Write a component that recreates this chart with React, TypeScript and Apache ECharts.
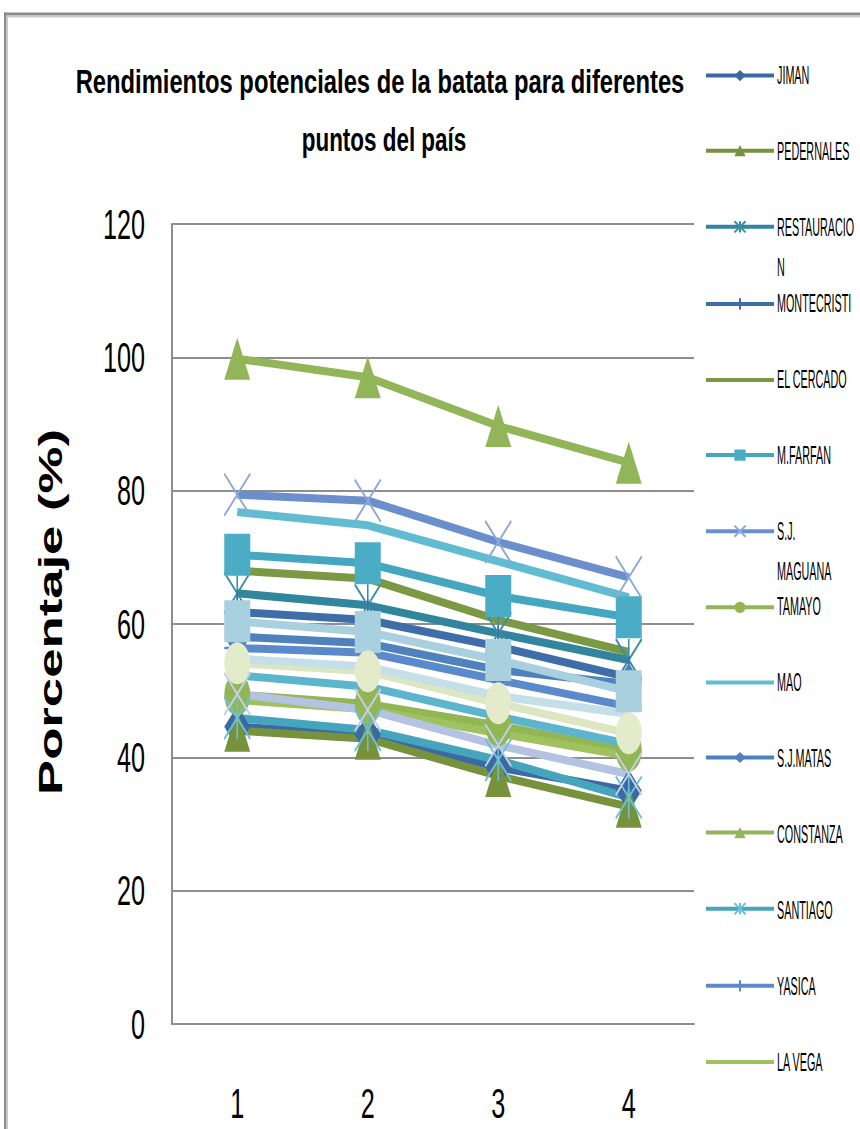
import React, { useEffect, useRef } from "react";
import * as echarts from "echarts";

// ---- data ----
const categories = ["1", "2", "3", "4"];
const yTicks = [0, 20, 40, 60, 80, 100, 120];

const seriesNames = [
  "JIMAN", "PEDERNALES", "RESTAURACION", "MONTECRISTI", "EL CERCADO",
  "M.FARFAN", "S.J. MAGUANA", "TAMAYO", "MAO", "S.J.MATAS",
  "CONSTANZA", "SANTIAGO", "YASICA", "LA VEGA", "BANI",
  "AZUA", "BONAO", "HIGUEY", "SAMANA",
];

const jiman = [44.6, 43.4, 38.5, 35];
const pedernales = [44, 42.8, 37.2, 32.6];
const restauracion = [64.6, 62.8, 58.6, 54.6];
const montecristi = [61.8, 60.6, 56.6, 52];
const elCercado = [68, 66.8, 60.6, 55.8];
const mFarfan = [70.4, 69.1, 64.2, 61];
const sjMaguana = [79.4, 78.5, 72.3, 67];
const tamayo = [49.4, 48, 44.8, 41];
const mao = [76.8, 74.8, 69.4, 64];
const sjMatas = [58.1, 57.1, 53.1, 51];
const constanza = [99.8, 97, 89.7, 84.2];
const santiago = [45.9, 44.1, 39.6, 34];
const yasica = [56.4, 55.7, 51.6, 47.6];
const laVega = [48.6, 47.2, 43.6, 40.2];
const bani = [60.4, 58.8, 54.6, 49.9];
const azua = [49.5, 47.1, 41.8, 37.5];
const bonao = [54.1, 52.9, 48.1, 43.6];
const higuey = [52.3, 50.6, 46.1, 42];
const samana = [54.8, 53.6, 49.2, 46.5];

const seriesValues = [
  jiman, pedernales, restauracion, montecristi, elCercado,
  mFarfan, sjMaguana, tamayo, mao, sjMatas,
  constanza, santiago, yasica, laVega, bani,
  azua, bonao, higuey, samana,
];

const legendLabels = [
  ["JIMAN"], ["PEDERNALES"], ["RESTAURACIO", "N"], ["MONTECRISTI"], ["EL CERCADO"],
  ["M.FARFAN"], ["S.J.", "MAGUANA"], ["TAMAYO"], ["MAO"], ["S.J.MATAS"],
  ["CONSTANZA"], ["SANTIAGO"], ["YASICA"], ["LA VEGA"],
];

// ---- styles ----
const X = "path://M0,0L20,20M20,0L0,20";
const PLUS = "path://M10,0L10,20M0,10L20,10";
const STAR = "path://M0,0L20,20M20,0L0,20M10,0L10,20";

const lineColors = [
  "#3C69A3", "#76923C", "#31859C", "#3E6DA8", "#7B9843",
  "#45A6BF", "#6A8FCC", "#93B655", "#62BCD1", "#4F81BD",
  "#92B558", "#44A5BD", "#5A8ACB", "#9FC25E", "#A8D0DE",
  "#B4C3E1", "#DCE6C0", "#5BB5CC", "#C5DFE8",
];
const markerColors = [
  "#3C69A3", "#76923C", "#3A8FA6", "#3E6DA8", "#7B9843",
  "#4BACC6", "#8AA8DA", "#93B655", "#62BCD1", "#4F81BD",
  "#92B558", "#6CC0D6", "#5A8ACB", "#9FC25E", "#A8D0DE",
  "#C3CFE8", "#E3EBCB", "#5BB5CC", "#C5DFE8",
];
const symbols = [
  "diamond", "triangle", STAR, PLUS, "none",
  "rect", X, "circle", "none", "diamond",
  "triangle", STAR, PLUS, "none", "rect",
  X, "circle", "none", "none",
];

const FONT = '"Liberation Sans", Arial, sans-serif';

export default function App() {
  const ref = useRef<HTMLDivElement>(null);

  useEffect(() => {
    if (!ref.current) return;
    const chart = echarts.init(ref.current, null, { renderer: "svg" });

    const series = seriesNames.map((name, i) => {
      const sym = symbols[i];
      const isStroke = sym.startsWith("path://");
      return {
        name,
        type: "line",
        data: seriesValues[i],
        symbol: sym,
        symbolSize: [26, 42],
        showSymbol: sym !== "none",
        lineStyle: { width: 8, color: lineColors[i] },
        itemStyle: isStroke
          ? { color: markerColors[i], borderColor: markerColors[i], borderWidth: 2 }
          : { color: markerColors[i], borderWidth: 0 },
        emphasis: { disabled: true },
        silent: true,
      };
    });

    const legendData = seriesNames.slice(0, 14).map((name, i) =>
      symbols[i] === "none" ? { name, itemStyle: { opacity: 0 } } : { name }
    );

    chart.setOption({
      animation: false,
      backgroundColor: "#ffffff",
      grid: { left: 172, right: 166, top: 224, bottom: 105, containLabel: false },
      xAxis: {
        type: "category",
        data: categories,
        boundaryGap: true,
        axisLine: { lineStyle: { color: "#8E8E8E", width: 2 } },
        axisTick: { show: false },
        axisLabel: { show: false },
      },
      yAxis: {
        type: "value",
        min: yTicks[0],
        max: yTicks[yTicks.length - 1],
        interval: yTicks[1] - yTicks[0],
        axisLine: { show: true, lineStyle: { color: "#8E8E8E", width: 2 } },
        axisTick: { show: false },
        splitLine: { lineStyle: { color: "#8E8E8E", width: 2 } },
        axisLabel: { show: false },
      },
      legend: {
        orient: "vertical",
        left: 704,
        top: 70,
        padding: 0,
        itemWidth: 68,
        itemHeight: 14,
        itemGap: 63.9,
        selectedMode: false,
        data: legendData,
        formatter: () => "",
        textStyle: { fontSize: 10, lineHeight: 14 },
        lineStyle: { width: 4 },
      },
      series,
    });

    const legendTexts: any[] = [];
    legendLabels.forEach((lines, i) => {
      lines.forEach((t, j) => {
        legendTexts.push({
          type: "text",
          x: 777,
          y: 75 + i * 75.9 + j * 40,
          scaleX: 0.415,
          style: { text: t, font: `26px ${FONT}`, fill: "#000", align: "left", verticalAlign: "middle" },
        });
      });
    });

    const yLabelTexts = yTicks.map((v) => ({
      type: "text",
      x: 145,
      y: chart.convertToPixel({ yAxisIndex: 0 }, v) as number,
      scaleX: 0.6,
      style: { text: String(v), font: `42px ${FONT}`, fill: "#000", align: "right", verticalAlign: "middle" },
    }));
    const xLabelTexts = categories.map((c) => ({
      type: "text",
      x: chart.convertToPixel({ xAxisIndex: 0 }, c) as number,
      y: 1103,
      scaleX: 0.6,
      style: { text: c, font: `42px ${FONT}`, fill: "#000", align: "center", verticalAlign: "middle" },
    }));

    chart.setOption({
      graphic: [
        { type: "rect", shape: { x: 4, y: 12.5, width: 900, height: 3 }, style: { fill: "#8c8c8c" } },
        { type: "rect", shape: { x: 4, y: 15.5, width: 900, height: 2 }, style: { fill: "#cacaca" } },
        { type: "rect", shape: { x: 4, y: 12.5, width: 2.5, height: 1200 }, style: { fill: "#8c8c8c" } },
        { type: "rect", shape: { x: 6.5, y: 15.5, width: 1.5, height: 1200 }, style: { fill: "#cacaca" } },
        {
          type: "text", x: 380, y: 82, scaleX: 0.72,
          style: { text: "Rendimientos potenciales de la batata para diferentes", font: `bold 33px ${FONT}`, fill: "#000", align: "center", verticalAlign: "middle" },
        },
        {
          type: "text", x: 384, y: 139, scaleX: 0.68,
          style: { text: "puntos del país", font: `bold 33px ${FONT}`, fill: "#000", align: "center", verticalAlign: "middle" },
        },
        {
          type: "text", x: 50, y: 612, rotation: Math.PI / 2, scaleX: 1.55,
          style: { text: "Porcentaje (%)", font: `bold 34px ${FONT}`, fill: "#000", align: "center", verticalAlign: "middle" },
        },
        ...legendTexts,
        ...yLabelTexts,
        ...xLabelTexts,
      ],
    });

    return () => chart.dispose();
  }, []);

  return (
    <div
      ref={ref}
      style={{ position: "absolute", left: 0, top: 0, width: 860, height: 1129, background: "#fff" }}
    />
  );
}
